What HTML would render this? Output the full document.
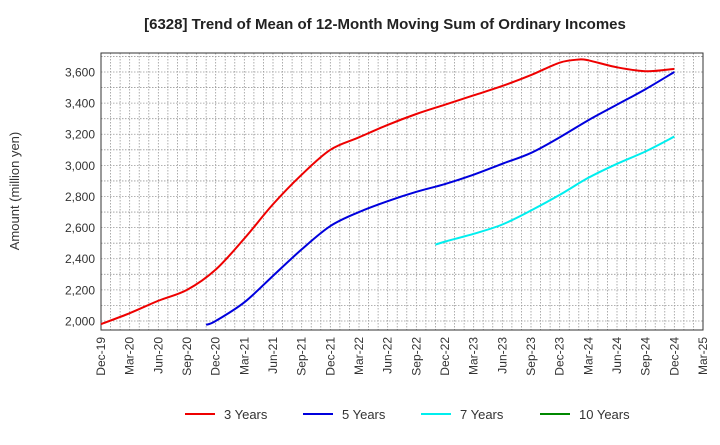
<!DOCTYPE html>
<html><head><meta charset="utf-8"><style>
body{margin:0;background:#fff;}
svg text{font-family:"Liberation Sans",sans-serif;}
</style></head><body>
<svg width="720" height="440" xmlns="http://www.w3.org/2000/svg" id="chart">
<text x="385" y="29" text-anchor="middle" font-size="15" font-weight="bold" fill="#222">[6328]  Trend of Mean of 12-Month Moving Sum of Ordinary Incomes</text>
<text transform="translate(19,191) rotate(-90)" text-anchor="middle" font-size="13" fill="#333">Amount (million yen)</text>
<g id="grid"></g><g id="axes"></g><g id="series"></g><g id="legend"></g>
</svg>
<script>
const xLabels=["Dec-19","Mar-20","Jun-20","Sep-20","Dec-20","Mar-21","Jun-21","Sep-21","Dec-21","Mar-22","Jun-22","Sep-22","Dec-22","Mar-23","Jun-23","Sep-23","Dec-23","Mar-24","Jun-24","Sep-24","Dec-24","Mar-25"];
const yTicks=[2000,2200,2400,2600,2800,3000,3200,3400,3600];
// months since Dec-19
const m3=[0,3,6,9,12,15,18,21,24,27,30,33,36,39,42,45,48,50,51,54,57,60];
const v3=[1980,2050,2130,2200,2330,2530,2750,2940,3100,3180,3260,3330,3390,3450,3510,3580,3660,3680,3675,3630,3605,3620];
const m5=[11,12,15,18,21,24,27,30,33,36,39,42,45,48,51,54,57,60];
const v5=[1975,2000,2120,2290,2460,2610,2700,2770,2830,2880,2940,3010,3080,3180,3290,3390,3490,3600];
const m7=[35,36,39,42,45,48,51,54,57,60];
const v7=[2490,2510,2560,2620,2710,2810,2920,3010,3090,3185];
const m10=[];const v10=[];
const L=101,R=703,T=53,B=330,yMin=1942,yMax=3722,mMax=63;
const X=m=>L+(R-L)*m/mMax, Y=v=>B-(B-T)*(v-yMin)/(yMax-yMin);
const NS="http://www.w3.org/2000/svg";
function mk(t,a,p){const e=document.createElementNS(NS,t);for(const k in a)e.setAttribute(k,a[k]);p.appendChild(e);return e;}
const g=document.getElementById('grid');
for(let m=1;m<mMax;m++){const l=mk('line',{x1:X(m),x2:X(m),y1:T,y2:B,stroke:'#999','stroke-dasharray':'1.5,1.5','stroke-width':0.8},g);

}
for(let v=2000;v<yMax;v+=100){const l=mk('line',{x1:L,x2:R,y1:Y(v),y2:Y(v),stroke:'#999','stroke-dasharray':'1.5,1.5','stroke-width':0.8},g);

}
const a=document.getElementById('axes');
const fr=mk('rect',{x:L,y:T,width:R-L,height:B-T,fill:'none',stroke:'#333','stroke-width':1},a);


yTicks.forEach(v=>{const t=mk('text',{x:L-6,y:Y(v)+4.5,'text-anchor':'end','font-size':12,fill:'#333'},a);t.textContent=v.toLocaleString('en-US');

});
xLabels.forEach((s,i)=>{const x=X(i*3);const t=mk('text',{transform:`translate(${x+4},${B+7}) rotate(-90)`,'text-anchor':'end','font-size':12,fill:'#333'},a);t.textContent=s;

});
const sg=document.getElementById('series');
function smooth(ms,vs){const p=ms.map((m,i)=>[X(m),Y(vs[i])]);if(!p.length)return'';let d=`M${p[0][0]},${p[0][1]}`;
for(let i=0;i<p.length-1;i++){const p0=p[i-1]||p[i],p1=p[i],p2=p[i+1],p3=p[i+2]||p2;
d+=` C${p1[0]+(p2[0]-p0[0])/6},${p1[1]+(p2[1]-p0[1])/6} ${p2[0]-(p3[0]-p1[0])/6},${p2[1]-(p3[1]-p1[1])/6} ${p2[0]},${p2[1]}`;}return d;}
[[m3,v3,'#ee0000','series-3-years'],[m5,v5,'#0000dd','series-5-years'],[m7,v7,'#00eeee','series-7-years'],[m10,v10,'#008800','series-10-years']].forEach(([m,v,c,n])=>{
if(!m.length)return;const p=mk('path',{d:smooth(m,v),fill:'none',stroke:c,'stroke-width':2},sg);

});
const lg=document.getElementById('legend');
[['3 Years','#ee0000',185],['5 Years','#0000dd',303],['7 Years','#00eeee',421],['10 Years','#008800',540]].forEach(([s,c,x])=>{
const gr=mk('g',{},lg);


mk('line',{x1:x,x2:x+30,y1:414,y2:414,stroke:c,'stroke-width':2},gr);
const t=mk('text',{x:x+39,y:419,'font-size':13,fill:'#333'},gr);t.textContent=s;});
</script>
</body></html>
